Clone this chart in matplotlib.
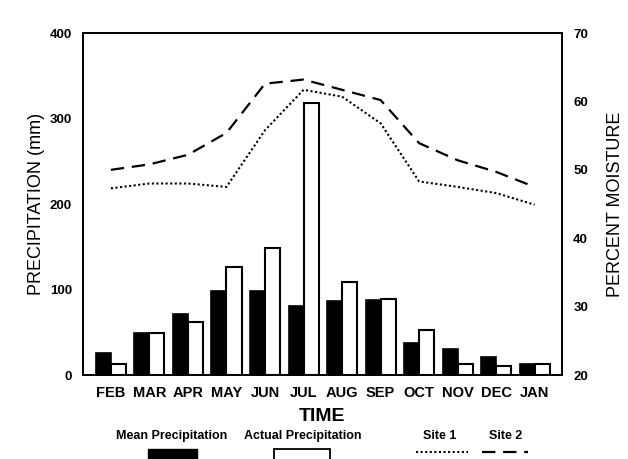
import numpy as np
import matplotlib.pyplot as plt
from matplotlib.patches import Rectangle
from matplotlib.lines import Line2D

# data
months = ["FEB", "MAR", "APR", "MAY", "JUN", "JUL", "AUG", "SEP", "OCT", "NOV", "DEC", "JAN"]
mean_precip = [26, 49, 71, 98, 98, 81, 87, 88, 38, 31, 21, 13]
actual_precip = [13, 49, 62, 126, 148, 318, 109, 89, 53, 13, 10, 13]
site1 = [47.3, 48.0, 48.0, 47.5, 55.8, 61.7, 60.7, 56.8, 48.3, 47.5, 46.6, 44.9]
site2 = [50.0, 50.8, 52.2, 55.4, 62.6, 63.2, 61.7, 60.2, 53.9, 51.4, 49.7, 47.5]

plt.rcParams['font.family'] = ['Liberation Sans', 'DejaVu Sans']

fig = plt.figure(figsize=(6.28, 4.59), dpi=100)
ax = fig.add_axes([0.132, 0.183, 0.763, 0.745])

x = np.arange(len(months))
w = 0.39
ax.bar(x - w / 2, mean_precip, w, color="black", edgecolor="black", linewidth=1.2, zorder=2)
ax.bar(x + w / 2, actual_precip, w, color="white", edgecolor="black", linewidth=1.5, zorder=2)

ax.set_xlim(-0.727, 11.71)
ax.set_ylim(0, 400)
ax.set_yticks([0, 100, 200, 300, 400])
ax.set_xticks(x)
ax.set_xticklabels(months, fontsize=10.5, fontweight="bold")
ax.tick_params(length=0, pad=8)
for lbl in ax.get_yticklabels():
    lbl.set_fontsize(9.5)
    lbl.set_fontweight("bold")
ax.set_ylabel("PRECIPITATION (mm)", fontsize=13, labelpad=3)
ax.set_xlabel("TIME", fontsize=14, fontweight="bold", labelpad=6)

ax2 = ax.twinx()
ax2.plot(x, site1, color="black", linestyle=(0, (1, 1.2)), linewidth=1.5)
ax2.plot(x, site2, color="black", linestyle=(0, (6, 3.5)), linewidth=1.6)
ax2.set_ylim(20, 70)
ax2.set_yticks([20, 30, 40, 50, 60, 70])
ax2.tick_params(length=0, pad=8)
for lbl in ax2.get_yticklabels():
    lbl.set_fontsize(9.5)
    lbl.set_fontweight("bold")
ax2.set_ylabel("PERCENT MOISTURE", fontsize=13, labelpad=14)

for a in (ax, ax2):
    for s in a.spines.values():
        s.set_linewidth(1.3)

# hand-built legend along the bottom: label above each swatch
W, H = 628, 459
def fx(px):
    return px / W
def fy(py):
    return 1 - py / H

fig.text(fx(172), fy(436), "Mean Precipitation", ha="center", va="center", fontsize=9, fontweight="bold")
fig.patches.append(Rectangle((fx(148), fy(466)), fx(197) - fx(148), fy(449) - fy(466),
                             transform=fig.transFigure, facecolor="black", edgecolor="black"))
fig.text(fx(303), fy(436), "Actual Precipitation", ha="center", va="center", fontsize=9, fontweight="bold")
fig.patches.append(Rectangle((fx(274), fy(466)), fx(330) - fx(274), fy(449) - fy(466),
                             transform=fig.transFigure, facecolor="white", edgecolor="black", linewidth=1.3))
fig.text(fx(440), fy(436), "Site 1", ha="center", va="center", fontsize=9, fontweight="bold")
fig.lines.append(Line2D([fx(416), fx(468)], [fy(452), fy(452)], transform=fig.transFigure,
                        color="black", linestyle=(0, (1, 1.2)), linewidth=1.5))
fig.text(fx(506), fy(436), "Site 2", ha="center", va="center", fontsize=9, fontweight="bold")
fig.lines.append(Line2D([fx(482), fx(528)], [fy(452), fy(452)], transform=fig.transFigure,
                        color="black", linestyle=(0, (6, 3.5)), linewidth=1.6))

fig.savefig("out.png", dpi=100)
